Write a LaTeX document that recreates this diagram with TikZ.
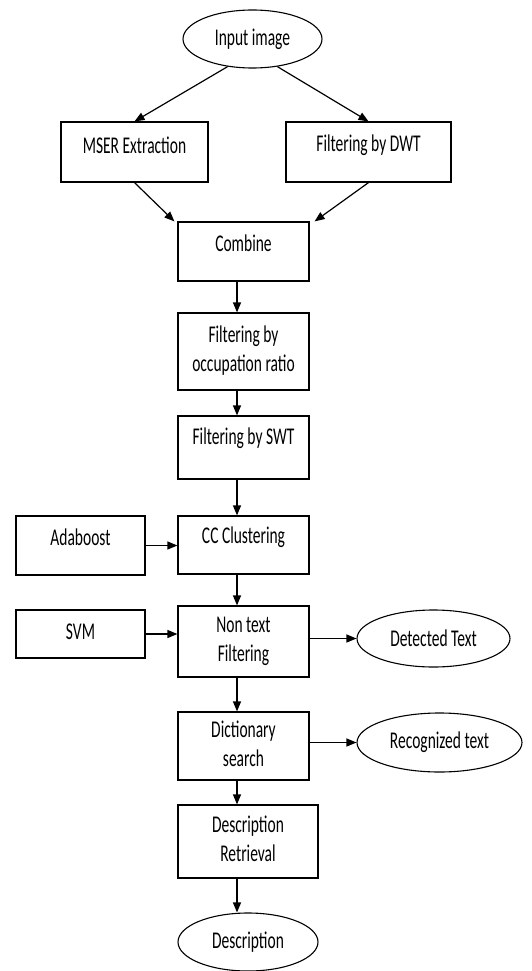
\documentclass[tikz,border=0pt]{standalone}
\usepackage{fontspec}
\setmainfont{Carlito}
\usetikzlibrary{shapes.geometric,arrows.meta}
\newcommand{\vs}[1]{\scalebox{1}[1.55]{#1}}
\newcommand{\vtwo}[2]{\scalebox{1}[1.55]{\begin{tabular}{@{}c@{}}#1\\#2\end{tabular}}}
\begin{document}
\begin{tikzpicture}[x=1pt,y=-1pt,
 every node/.style={font=\fontsize{15.5}{18.7}\selectfont, inner sep=0pt, text=black},
 box/.style={draw, line width=1.2pt, rectangle},
 oval/.style={draw, line width=1.1pt, ellipse},
 arr/.style={line width=1.2pt, -{Triangle[length=10pt,width=8pt]}}]
\useasboundingbox (0,0) rectangle (531,971);

% ovals
\node[oval, minimum width=139pt, minimum height=58pt] (in) at (252.5,39) {\vs{Input image}};
\node[oval, minimum width=153pt, minimum height=57pt] (det) at (433.5,638.5) {\vs{Detected Text}};
\node[oval, minimum width=165pt, minimum height=59pt] (rec) at (439.5,742.5) {\vs{Recognized text}};
\node[oval, minimum width=140pt, minimum height=58pt] (dese) at (248,942) {\vs{Description}};

% boxes with top-aligned single text
\node[box, minimum width=147pt, minimum height=60pt] (mser) at (134.5,152) {};
\node (mserT) at (134.5,145) {\vs{MSER Extraction}};
\node[box, minimum width=165pt, minimum height=60pt] (dwt) at (368.5,152) {};
\node (dwtT) at (368.5,145) {\vs{Filtering by DWT}};
\node[box, minimum width=131pt, minimum height=59pt] (comb) at (243.5,251.5) {};
\node (combT) at (243.5,243) {\vs{Combine}};
\node[box, minimum width=131pt, minimum height=77pt] (occ) at (243.5,351.5) {\vtwo{Filtering by}{occupation ratio}};
\node[box, minimum width=131pt, minimum height=63pt] (swt) at (243.5,447.5) {};
\node (swtT) at (243.5,438) {\vs{Filtering by SWT}};
\node[box, minimum width=131pt, minimum height=58pt] (cc) at (243.5,545) {};
\node (ccT) at (243.5,537) {\vs{CC Clustering}};
\node[box, minimum width=129pt, minimum height=59pt] (ada) at (80.5,545.5) {};
\node (adaT) at (80.5,537) {\vs{Adaboost}};
\node[box, minimum width=131pt, minimum height=71pt] (ntf) at (243.5,641.5) {\vtwo{Non text}{Filtering}};
\node[box, minimum width=129pt, minimum height=48pt] (svm) at (80.5,634) {};
\node (svmT) at (80.5,632) {\vs{SVM}};
\node[box, minimum width=131pt, minimum height=68pt] (dict) at (243.5,746) {\vtwo{Dictionary}{search}};
\node[box, minimum width=140pt, minimum height=73pt] (desc) at (248,841.5) {\vtwo{Description}{Retrieval}};

% connectors
\draw[arr] (in.228) -- (mser.north);
\draw[arr] (in.-48) -- (dwt.north);
\draw[arr] (mser.south) -- ([xshift=-3pt]comb.north west);
\draw[arr] (dwt.south) -- ([xshift=5pt]comb.north east);
\draw[arr] ([xshift=-6.5pt]comb.south) -- ([xshift=-6.5pt]occ.north);
\draw[arr] ([xshift=-6.5pt]occ.south) -- ([xshift=-6.5pt]swt.north);
\draw[arr] ([xshift=-6.5pt]swt.south) -- ([xshift=-6.5pt]cc.north);
\draw[arr] (ada.east) -- (ada.east -| cc.west);
\draw[arr] ([xshift=-6.5pt]cc.south) -- ([xshift=-6.5pt]ntf.north);
\draw[arr] (svm.east) -- (svm.east -| ntf.west);
\draw[arr] (det.west -| ntf.east) -- (det.west);
\draw[arr] ([xshift=-6.5pt]ntf.south) -- ([xshift=-6.5pt]dict.north);
\draw[arr] (rec.west -| dict.east) -- (rec.west);
\draw[arr] ([xshift=-6.5pt]dict.south) -- ([xshift=-11pt]desc.north);
\draw[arr] ([xshift=-11pt]desc.south) -- ([xshift=-11pt]dese.north);
\end{tikzpicture}
\end{document}
